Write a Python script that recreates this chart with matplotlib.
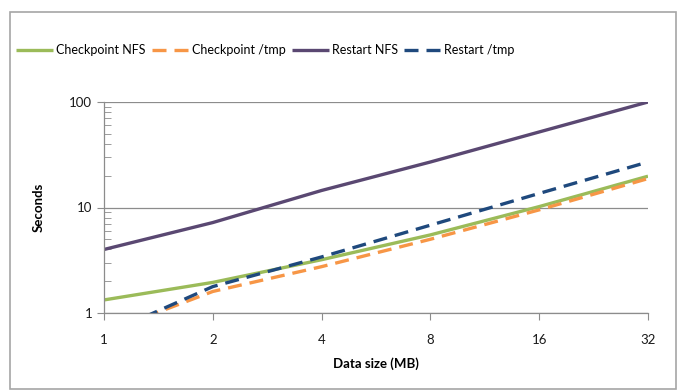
import numpy as np
import matplotlib.pyplot as plt
from matplotlib.patches import Rectangle
from matplotlib.ticker import FixedLocator, NullFormatter, LogLocator

plt.rcParams['font.family'] = ['Lato', 'DejaVu Sans']

# data (log-log chart)
data_size = [1, 2, 4, 8, 16, 32]
checkpoint_nfs = [1.33, 1.95, 3.2, 5.5, 10.2, 19.8]
checkpoint_tmp = [0.65, 1.6, 2.75, 5.0, 9.5, 18.8]
restart_nfs = [4.0, 7.2, 14.5, 27.0, 52.0, 100.0]
restart_tmp = [0.62, 1.78, 3.4, 6.8, 13.6, 27.0]

series = [
    ("Checkpoint NFS", checkpoint_nfs, "#9bbb59", None),
    ("Checkpoint /tmp", checkpoint_tmp, "#f79646", (4.2, 2.4)),
    ("Restart NFS", restart_nfs, "#5a4872", None),
    ("Restart /tmp", restart_tmp, "#1f497d", (4.2, 2.4)),
]

fig = plt.figure(figsize=(6.83, 3.90), dpi=100)
W, H = 683, 390
ax = fig.add_axes([104 / W, 1 - 313 / H, (648 - 104) / W, (313 - 102) / H])

handles = []
for name, vals, color, dash in series:
    line, = ax.plot(data_size, vals, color=color, lw=2.4, label=name,
                    solid_capstyle='butt', dash_capstyle='butt')
    if dash:
        line.set_dashes(dash)
    handles.append(line)

ax.set_xscale('log', base=2)
ax.set_yscale('log')
ax.set_xlim(1, 32)
ax.set_ylim(1, 100)

ax.xaxis.set_major_locator(FixedLocator(data_size))
ax.set_xticklabels([str(v) for v in data_size])
ax.xaxis.set_minor_locator(FixedLocator([]))
ax.yaxis.set_major_locator(FixedLocator([1, 10, 100]))
ax.set_yticklabels(["1", "10", "100"])
ax.yaxis.set_minor_locator(LogLocator(base=10, subs=np.arange(2, 10)))
ax.yaxis.set_minor_formatter(NullFormatter())

ax.grid(axis='y', which='major', color='#8c8c8c', lw=0.9)
for s in ['top', 'right']:
    ax.spines[s].set_visible(False)
for s in ['left', 'bottom']:
    ax.spines[s].set_color('#8c8c8c')
    ax.spines[s].set_linewidth(0.9)

ax.tick_params(axis='both', which='major', direction='out', length=5,
               color='#8c8c8c', labelsize=9.5, labelcolor='#1a1a1a')
ax.tick_params(axis='x', pad=10)
ax.tick_params(axis='y', which='minor', direction='in', length=5,
               color='#8c8c8c')

ax.set_xlabel("Data size (MB)", fontsize=9.5, fontweight='bold', labelpad=8)
ax.set_ylabel("Seconds", fontsize=9.5, fontweight='bold', labelpad=18)

fig.legend(handles=handles, loc='center', bbox_to_anchor=(265 / W, 1 - 50 / H),
           ncol=4, frameon=False, fontsize=9, handlelength=3.0,
           handletextpad=0.2, columnspacing=0.5, borderaxespad=0)

# chart border
fig.patches.append(Rectangle((10 / W, 0.002), (666 / W), 1 - 12 / H - 0.002,
                             transform=fig.transFigure, fill=False,
                             edgecolor='#a6a6a6', lw=1.2))

fig.savefig("out.png", dpi=100)
